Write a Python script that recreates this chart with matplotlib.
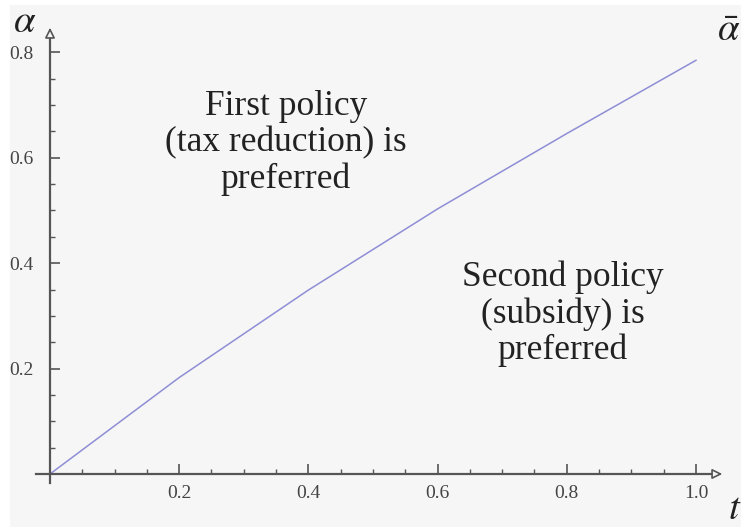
import matplotlib.pyplot as plt
import numpy as np
from matplotlib.ticker import FixedLocator
from matplotlib.patches import Rectangle

plt.rcParams['mathtext.fontset'] = 'stix'

# frontera alpha_bar(t)
t = [0.0, 0.2, 0.4, 0.6, 0.8, 1.0]
alpha_bar = [0.0, 0.183, 0.349, 0.503, 0.646, 0.785]
xticks = [0.2, 0.4, 0.6, 0.8, 1.0]
yticks = [0.2, 0.4, 0.6, 0.8]
texto1 = 'First policy\n(tax reduction) is\npreferred'
texto2 = 'Second policy\n(subsidy) is\npreferred'

fig = plt.figure(figsize=(7.41, 5.27), dpi=100)
fig.patch.set_facecolor('white')
fig.patches.append(Rectangle((10 / 741, 0), 1, 1 - 5 / 527, transform=fig.transFigure,
                             facecolor='#f6f6f6', edgecolor='none', zorder=-10))
ax = fig.add_axes([0, 0, 1, 1])
ax.set_facecolor('none')
ax.set_xlim(-0.0774, 1.0697)
ax.set_ylim(-0.1006, 0.8994)

gris = '#555555'
for s in ['top', 'right']:
    ax.spines[s].set_visible(False)
ax.spines['bottom'].set_position(('data', 0))
ax.spines['left'].set_position(('data', 0))
ax.spines['bottom'].set_bounds(-0.021, 1.03)
ax.spines['left'].set_bounds(-0.017, 0.835)
for s in ['bottom', 'left']:
    ax.spines[s].set_color(gris)
    ax.spines[s].set_linewidth(1.6)

ax.xaxis.set_major_locator(FixedLocator(xticks))
ax.yaxis.set_major_locator(FixedLocator(yticks))
ax.xaxis.set_minor_locator(FixedLocator(np.arange(0.05, 1.001, 0.05)))
ax.yaxis.set_minor_locator(FixedLocator(np.arange(0.05, 0.801, 0.05)))
ax.set_xticklabels(['0.2', '0.4', '0.6', '0.8', '1.0'], family='Liberation Serif', fontsize=14)
ax.set_yticklabels(['0.2', '0.4', '0.6', '0.8'], family='Liberation Serif', fontsize=14)
ax.tick_params(which='major', direction='in', length=7, width=1.2, color=gris,
               labelcolor='#444444')
ax.tick_params(which='minor', direction='in', length=3.5, width=1.0, color=gris)
ax.tick_params(axis='x', pad=8)
ax.tick_params(axis='y', pad=12)

# puntas de flecha
ax.annotate('', xy=(1.045, 0), xytext=(1.02, 0),
            arrowprops=dict(arrowstyle='-|>,head_length=0.6,head_width=0.3',
                            fc='#f6f6f6', ec=gris, lw=1.2))
ax.annotate('', xy=(0, 0.852), xytext=(0, 0.825),
            arrowprops=dict(arrowstyle='-|>,head_length=0.6,head_width=0.3',
                            fc='#f6f6f6', ec=gris, lw=1.2))

ax.plot(t, alpha_bar, color='#8e8ed6', lw=1.1)

ax.text(0.365, 0.628, texto1, ha='center', va='center', fontsize=25.5,
        family='Liberation Serif', color='#222222', linespacing=1.12)
ax.text(0.794, 0.304, texto2, ha='center', va='center', fontsize=25.5,
        family='Liberation Serif', color='#222222', linespacing=1.12)

ax.text(25 / 741, 1 - 21 / 527, r'$\alpha$', transform=ax.transAxes,
        ha='center', va='center', fontsize=28, color='#222222')
ax.text(729 / 741, 1 - 30 / 527, r'$\bar{\alpha}$', transform=ax.transAxes,
        ha='center', va='center', fontsize=28, color='#222222')
ax.text(735 / 741, 1 - 508 / 527, r'$t$', transform=ax.transAxes,
        ha='center', va='center', fontsize=28, color='#222222')

fig.savefig('out.png', dpi=100)
